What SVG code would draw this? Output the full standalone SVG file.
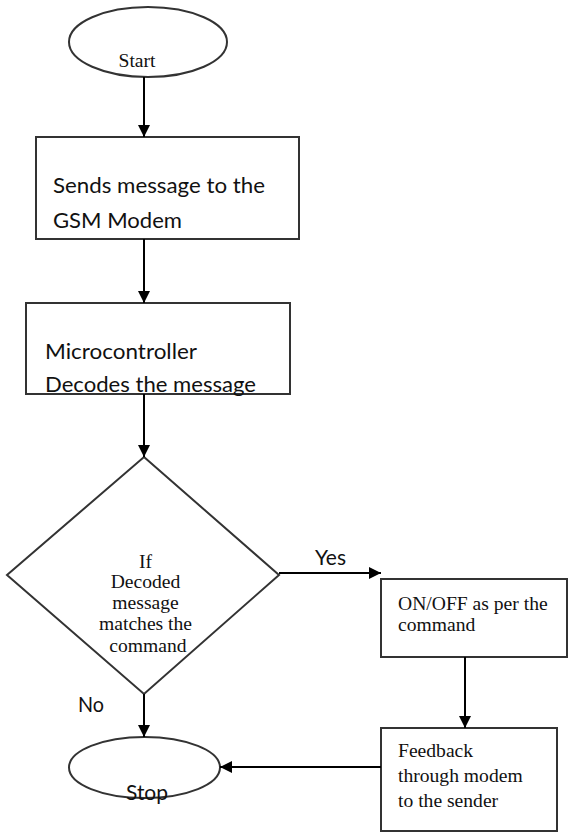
<svg xmlns="http://www.w3.org/2000/svg" width="568" height="832" viewBox="0 0 568 832">
  <defs>
    <marker id="ah" markerUnits="userSpaceOnUse" markerWidth="12" markerHeight="12" refX="12" refY="6" orient="auto">
      <path d="M0,0 L12,6 L0,12 z" fill="#000"/>
    </marker>
    <style>
      .shape { fill: #fff; stroke: #333; stroke-width: 2; }
      .conn { fill: none; stroke: #000; stroke-width: 2; marker-end: url(#ah); }
      .serif { font-family: "Liberation Serif", "Times New Roman", serif; font-size: 19.6px; fill: #111; }
      .sans { font-family: Lato, "Liberation Sans", sans-serif; font-size: 22px; fill: #111; }
    </style>
  </defs>
  <rect width="568" height="832" fill="#fff"/>

  <g id="start">
    <ellipse class="shape" cx="148" cy="42" rx="79" ry="35"/>
    <text class="serif" x="137" y="67" text-anchor="middle">Start</text>
  </g>

  <g id="send">
    <rect class="shape" x="36" y="137" width="263" height="102"/>
    <text class="sans" x="53" y="193" textLength="212" lengthAdjust="spacingAndGlyphs">Sends message to the</text>
    <text class="sans" x="53" y="228" textLength="129" lengthAdjust="spacingAndGlyphs">GSM Modem</text>
  </g>

  <g id="decode">
    <rect class="shape" x="26" y="303" width="264" height="91"/>
    <text class="sans" x="45" y="359" textLength="152" lengthAdjust="spacingAndGlyphs">Microcontroller</text>
    <text class="sans" x="45" y="392" textLength="211" lengthAdjust="spacingAndGlyphs">Decodes the message</text>
  </g>

  <g id="decision">
    <polygon class="shape" points="144,457 279,575 144,694 7,575"/>
    <text class="serif" text-anchor="middle">
      <tspan x="148" y="568">If</tspan>
      <tspan x="148" y="588">Decoded</tspan>
      <tspan x="148" y="609">message</tspan>
      <tspan x="148" y="630">matches the</tspan>
      <tspan x="148" y="652">command</tspan>
    </text>
  </g>

  <g id="onoff">
    <rect class="shape" x="381" y="579" width="186" height="78"/>
    <text class="serif" x="398" y="610">ON/OFF as per the</text>
    <text class="serif" x="398" y="631">command</text>
  </g>

  <g id="feedback">
    <rect class="shape" x="381" y="728" width="176" height="103"/>
    <text class="serif" x="398" y="757">Feedback</text>
    <text class="serif" x="398" y="782">through modem</text>
    <text class="serif" x="398" y="807">to the sender</text>
  </g>

  <g id="stop">
    <ellipse class="shape" cx="144.5" cy="767.5" rx="75.5" ry="30.5"/>
    <text class="sans" x="147" y="800" text-anchor="middle" textLength="42" lengthAdjust="spacingAndGlyphs">Stop</text>
  </g>

  <g id="connectors">
    <line class="conn" x1="144" y1="77" x2="144" y2="137"/>
    <line class="conn" x1="144" y1="239" x2="144" y2="303"/>
    <line class="conn" x1="144" y1="394" x2="144" y2="457"/>
    <line class="conn" x1="279" y1="573" x2="381" y2="573"/>
    <line class="conn" x1="144" y1="694" x2="144" y2="737"/>
    <line class="conn" x1="465" y1="657" x2="465" y2="728"/>
    <line class="conn" x1="381" y1="767" x2="220" y2="767"/>
    <text class="sans" x="315" y="565" textLength="31" lengthAdjust="spacingAndGlyphs">Yes</text>
    <text class="sans" x="78" y="712" textLength="26" lengthAdjust="spacingAndGlyphs">No</text>
  </g>
</svg>
